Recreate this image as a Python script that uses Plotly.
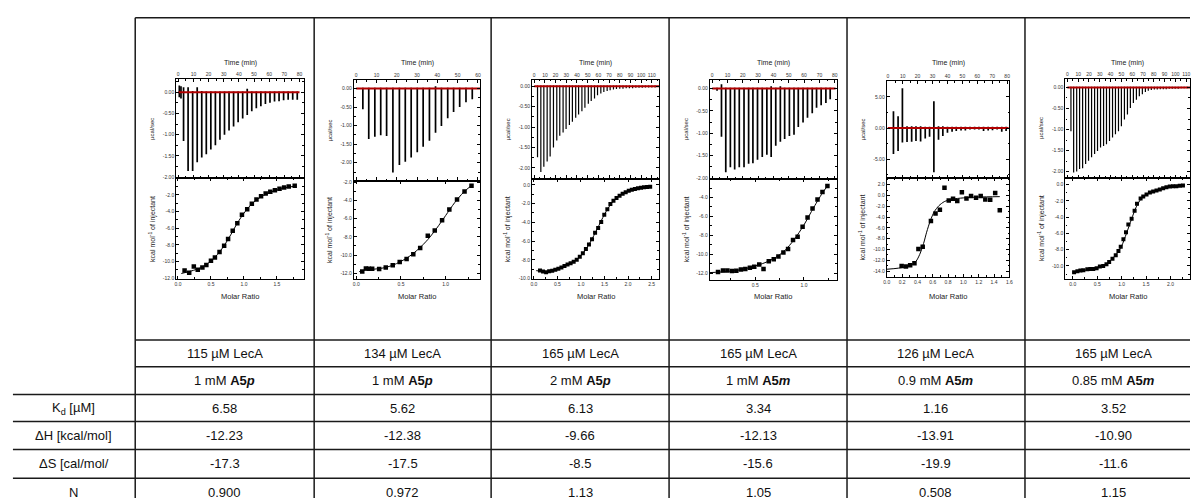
import plotly.graph_objects as go

FONT = "Liberation Sans, Arial, sans-serif"
W, H = 1194, 500

# ---------------- Panel data ----------------
# Panel 1 : 115 uM LecA / 1 mM A5p
p1_t = [0.7, 1.8, 3.5, 6.5, 9.5, 12.5, 15.5, 18.5, 21.5, 24.5, 27.5, 30.5, 33.5, 36.5, 39.5, 42.5,
        45.5, 48.5, 51.5, 54.5, 57.5, 60.5, 63.5, 66.5, 69.5, 72.5, 75.5, 78.5]
p1_lo = [-0.12, -0.15, -1.15, -1.86, -1.86, -1.65, -1.54, -1.46, -1.35, -1.25, -1.12, -1.00, -0.90, -0.81,
         -0.71, -0.62, -0.54, -0.45, -0.38, -0.33, -0.28, -0.25, -0.22, -0.21, -0.19, -0.18, -0.18, -0.18]
p1_hi = [0.16, 0.14, 0.12, 0.12, 0.03, 0.12, 0.03, 0.02, 0.02, 0.02, 0.02, 0.02, 0.02, 0.02,
         0.02, 0.02, 0.08, 0.02, 0.02, 0.02, 0.02, 0.02, 0.02, 0.02, 0.02, 0.02, 0.02, 0.02]
p1_mr = [0.10, 0.17, 0.24, 0.30, 0.37, 0.43, 0.50, 0.56, 0.63, 0.70, 0.76, 0.83, 0.90, 0.97, 1.05,
         1.12, 1.19, 1.26, 1.33, 1.40, 1.47, 1.54, 1.61, 1.68, 1.77]
p1_kcal = [-11.08, -11.36, -10.6, -11.0, -10.72, -10.44, -9.92, -9.52, -8.88, -8.12, -7.32, -6.32, -5.4,
           -4.4, -3.72, -3.08, -2.56, -2.16, -1.84, -1.64, -1.44, -1.28, -1.12, -1.0, -0.92]
p1_fit_mr = [0.05, 0.2, 0.35, 0.5, 0.6, 0.7, 0.8, 0.9, 1.0, 1.1, 1.2, 1.3, 1.45, 1.6, 1.77]
p1_fit_kcal = [-11.45, -11.15, -10.75, -9.95, -9.15, -8.1, -6.8, -5.4, -4.2, -3.25, -2.55, -2.05, -1.55, -1.2, -0.95]

# Panel 2 : 134 uM LecA / 1 mM A5p
p2_t = [3.3, 6.2, 9.2, 12.1, 15.0, 18.1, 21.3, 24.2, 27.1, 30.1, 33.0, 36.1, 39.1, 42.0, 45.1, 48.0, 51.0, 54.1, 57.2]
p2_lo = [-0.56, -1.36, -1.30, -1.26, -1.28, -2.26, -2.06, -1.97, -1.86, -1.72, -1.57, -1.41, -1.19, -1.01,
         -0.80, -0.63, -0.50, -0.37, -0.29]
p2_hi = [0.02, 0.02, 0.02, 0.02, 0.02, 0.02, 0.02, 0.02, 0.02, 0.02, 0.02, 0.02, 0.06, 0.02, 0.02, 0.02, 0.02, 0.02, 0.02]
p2_mr = [0.067, 0.108, 0.141, 0.178, 0.256, 0.33, 0.408, 0.486, 0.563, 0.638, 0.715, 0.80, 0.878, 0.96,
         1.041, 1.127, 1.211, 1.289]
p2_kcal = [-11.81, -11.49, -11.5, -11.5, -11.52, -11.38, -11.12, -10.76, -10.43, -9.92, -9.23, -7.89, -7.30,
           -6.18, -4.98, -3.89, -3.01, -2.39]
p2_fit_mr = [0.033, 0.1, 0.2, 0.3, 0.4, 0.5, 0.6, 0.7, 0.8, 0.9, 1.0, 1.1, 1.2, 1.289]
p2_fit_kcal = [-11.82, -11.65, -11.55, -11.42, -11.15, -10.7, -10.1, -9.3, -8.3, -7.05, -5.65, -4.25, -3.1, -2.35]

# Panel 3 : 165 uM LecA / 2 mM A5p
p3_t = [3.1, 6.2, 9.0, 12.1, 14.9, 18.0, 21.1, 23.9, 27.0, 29.8, 32.9, 35.7, 38.8, 41.5, 44.6, 47.4, 50.6,
        53.3, 56.4, 59.2, 62.3, 65.1, 68.2, 71.0, 74.1, 76.9, 80.0, 83.0, 86.0, 89.0, 92.0, 95.0, 98.0,
        101.0, 104.0, 107.0, 110.0, 113.0]
p3_lo = [-1.74, -2.10, -1.97, -1.84, -1.72, -1.50, -1.33, -1.21, -1.13, -1.05, -0.95, -0.87, -0.77, -0.69,
         -0.61, -0.53, -0.43, -0.36, -0.30, -0.22, -0.18, -0.14, -0.12, -0.10, -0.08, -0.07, -0.06, -0.06,
         -0.05, -0.05, -0.05, -0.04, -0.04, -0.04, -0.03, -0.03, -0.03, -0.03]
p3_hi = [0.02] * 38
p3_mr = [0.13, 0.195, 0.26, 0.325, 0.39, 0.455, 0.52, 0.585, 0.65, 0.715, 0.78, 0.845, 0.91, 0.975, 1.04,
         1.105, 1.17, 1.235, 1.30, 1.365, 1.43, 1.495, 1.56, 1.625, 1.69, 1.755, 1.82, 1.885, 1.95, 2.015,
         2.08, 2.145, 2.21, 2.275, 2.34, 2.405, 2.47]
p3_kcal = [-9.14, -9.25, -9.31, -9.22, -9.15, -9.05, -8.95, -8.82, -8.66, -8.5, -8.35, -8.2, -8.0, -7.66,
           -7.3, -6.85, -6.35, -5.8, -5.1, -4.6, -3.95, -3.2, -2.6, -2.05, -1.7, -1.4, -1.15, -0.95, -0.78,
           -0.62, -0.52, -0.44, -0.37, -0.31, -0.26, -0.22, -0.2]
p3_fit_mr = [0.05, 0.3, 0.6, 0.9, 1.05, 1.2, 1.35, 1.5, 1.65, 1.8, 2.0, 2.2, 2.47]
p3_fit_kcal = [-9.15, -9.25, -8.8, -8.0, -7.25, -6.1, -4.65, -3.15, -1.95, -1.2, -0.65, -0.38, -0.2]

# Panel 4 : 165 uM LecA / 1 mM A5m
p4_t = [3.2, 6.1, 8.9, 11.9, 14.7, 17.7, 20.8, 23.8, 26.6, 29.6, 32.7, 35.7, 38.5, 41.5, 44.5, 47.3, 50.4,
        53.4, 56.2, 59.3, 62.2, 65.3, 68.1, 71.1, 74.2, 77.0]
p4_lo = [-0.05, -1.08, -1.87, -1.76, -1.81, -1.76, -1.76, -1.68, -1.67, -1.59, -1.53, -1.48, -1.53, -1.28,
         -1.19, -1.13, -1.06, -1.03, -0.86, -0.76, -0.65, -0.55, -0.43, -0.37, -0.32, -0.24]
p4_hi = [0.02, 0.10, 0.02, 0.02, 0.02, 0.02, 0.02, 0.02, 0.02, 0.02, 0.02, 0.02, 0.05, 0.02, 0.05, 0.02,
         0.02, 0.02, 0.02, 0.02, 0.02, 0.02, 0.02, 0.02, 0.02, 0.02]
p4_mr = [0.118, 0.169, 0.214, 0.261, 0.306, 0.353, 0.398, 0.445, 0.49, 0.541, 0.585, 0.639, 0.69, 0.738,
         0.789, 0.837, 0.888, 0.935, 0.986, 1.037, 1.088, 1.139, 1.19, 1.241]
p4_kcal = [-11.89, -11.72, -11.72, -11.79, -11.76, -11.62, -11.58, -11.44, -11.34, -11.09, -11.58, -10.74,
           -10.53, -10.25, -9.83, -9.44, -8.49, -8.15, -7.09, -6.11, -5.16, -4.21, -3.41, -2.78]
p4_fit_mr = [0.034, 0.2, 0.35, 0.5, 0.6, 0.7, 0.8, 0.9, 1.0, 1.1, 1.2, 1.245]
p4_fit_kcal = [-11.95, -11.85, -11.65, -11.25, -10.9, -10.4, -9.65, -8.45, -6.9, -5.05, -3.35, -2.75]

# Panel 5 : 126 uM LecA / 0.9 mM A5m
p5_t = [3.8, 6.9, 9.8, 12.9, 16.0, 18.9, 22.0, 25.1, 28.0, 30.9, 34.0, 36.9, 40.0, 43.1, 45.9, 49.1, 52.0,
        55.1, 58.2, 61.1, 64.2, 67.3, 70.2, 73.3, 76.4, 79.3]
p5_lo = [-4.2, -3.7, -2.35, -2.25, -2.2, -2.1, -2.15, -1.7, -1.4, -7.1, -1.9, -1.3, -0.75, -0.6, -0.5, -0.4,
         -0.4, -0.25, -0.25, -0.25, -0.5, -0.4, -0.35, -0.25, -0.6, -0.5]
p5_hi = [2.7, 1.9, 6.4, 0.3, 0.3, 0.3, 0.3, 0.2, 0.2, 4.3, 0.3, 0.3, 0.2, 0.2, 0.2, 0.2, 0.2, 0.2, 0.2, 0.2,
         0.2, 0.2, 0.2, 0.2, 0.2, 0.2]
p5_mr = [0.194, 0.25, 0.305, 0.361, 0.413, 0.469, 0.576, 0.636, 0.693, 0.753, 0.809, 0.865, 0.92, 0.98,
         1.04, 1.10, 1.165, 1.226, 1.286, 1.35, 1.415, 1.475]
p5_kcal = [-13.03, -13.15, -12.9, -12.54, -9.91, -9.48, -4.71, -3.36, -2.63, 1.41, -0.92, -0.61, -1.04, 0.61,
           -0.55, -0.12, -0.43, -0.12, -0.73, -0.79, 0.43, -2.75]
p5_fit_mr = [0.0, 0.15, 0.3, 0.38, 0.43, 0.48, 0.52, 0.57, 0.62, 0.68, 0.75, 0.85, 1.0, 1.2, 1.475]
p5_fit_kcal = [-13.65, -13.45, -13.0, -12.2, -10.9, -8.9, -6.8, -4.6, -3.0, -1.9, -1.15, -0.7, -0.45, -0.3, -0.22]

# Panel 6 : 165 uM LecA / 0.85 mM A5m
p6_t = [3.3, 5.8, 8.6, 11.3, 14.1, 16.9, 19.6, 22.4, 25.2, 27.9, 30.7, 33.5, 36.2, 39.0, 41.8, 44.5, 47.3,
        50.0, 52.8, 55.6, 58.3, 61.1, 63.9, 66.6, 69.4, 72.2, 74.9, 77.7, 80.5, 83.2, 86.0, 88.8, 91.5, 94.3,
        97.1, 99.8, 102.6, 105.4, 108.1, 110.9]
p6_lo = [-1.04, -2.02, -2.0, -1.94, -1.92, -1.82, -1.74, -1.66, -1.58, -1.51, -1.43, -1.39, -1.35, -1.27,
         -1.19, -1.11, -1.04, -0.92, -0.76, -0.64, -0.49, -0.37, -0.29, -0.21, -0.16, -0.11, -0.08, -0.06,
         -0.05, -0.05, -0.04, -0.04, -0.04, -0.03, -0.03, -0.03, -0.03, -0.02, -0.02, -0.02]
p6_hi = [0.02] * 40
p6_mr = [0.027, 0.095, 0.156, 0.217, 0.298, 0.36, 0.42, 0.488, 0.555, 0.623, 0.69, 0.745, 0.813, 0.88,
         0.935, 0.982, 1.037, 1.09, 1.138, 1.205, 1.266, 1.315, 1.389, 1.443, 1.51, 1.579, 1.646, 1.714,
         1.782, 1.85, 1.917, 1.986, 2.053, 2.12, 2.19, 2.256]
p6_kcal = [-10.77, -10.65, -10.57, -10.53, -10.41, -10.37, -10.37, -10.28, -10.08, -10.0, -9.80, -9.51,
           -9.11, -8.70, -8.17, -7.64, -6.71, -5.85, -4.92, -4.19, -3.21, -2.36, -1.71, -1.46, -1.22, -0.98,
           -0.85, -0.73, -0.61, -0.45, -0.33, -0.24, -0.2, -0.2, -0.16, -0.12]
p6_fit_mr = [0.0, 0.2, 0.4, 0.6, 0.75, 0.9, 1.0, 1.1, 1.2, 1.3, 1.4, 1.5, 1.65, 1.8, 2.0, 2.256]
p6_fit_kcal = [-10.8, -10.6, -10.35, -10.02, -9.45, -8.5, -7.55, -6.0, -4.3, -2.75, -1.75, -1.25, -0.85,
               -0.55, -0.3, -0.14]

# ---------------- Tick labels ----------------
time_ticks_80 = [0, 10, 20, 30, 40, 50, 60, 70, 80]
time_ticks_60 = [0, 10, 20, 30, 40, 50, 60]
time_ticks_110 = [0, 10, 20, 30, 40, 50, 60, 70, 80, 90, 100, 110]
raw_ticks_2 = [0.0, -0.5, -1.0, -1.5, -2.0]
raw_ticks_5 = [5.0, 0.0, -5.0]
mr_ticks_15 = [0.0, 0.5, 1.0, 1.5]
mr_ticks_10 = [0.0, 0.5, 1.0]
mr_ticks_25 = [0.0, 0.5, 1.0, 1.5, 2.0, 2.5]
mr_ticks_p4 = [0.5, 1.0]
mr_ticks_16 = [0.0, 0.2, 0.4, 0.6, 0.8, 1.0, 1.2, 1.4, 1.6]
mr_ticks_20 = [0.0, 0.5, 1.0, 1.5, 2.0]
kcal_ticks_p1 = [-2.0, -4.0, -6.0, -8.0, -10.0, -12.0]
kcal_ticks_p3 = [0.0, -2.0, -4.0, -6.0, -8.0, -10.0]
kcal_ticks_p4 = [-4.0, -6.0, -8.0, -10.0, -12.0]
kcal_ticks_p5 = [2.0, 0.0, -2.0, -4.0, -6.0, -8.0, -10.0, -12.0, -14.0]

# ---------------- Table text ----------------
protein = ["115 µM LecA", "134 µM LecA", "165 µM LecA", "165 µM LecA", "126 µM LecA", "165 µM LecA"]
ligand_conc = ["1 mM", "1 mM", "2 mM", "1 mM", "0.9 mM", "0.85 mM"]
ligand_suffix = ["p", "p", "p", "m", "m", "m"]
kd_vals = ["6.58", "5.62", "6.13", "3.34", "1.16", "3.52"]
dh_vals = ["-12.23", "-12.38", "-9.66", "-12.13", "-13.91", "-10.90"]
ds_vals = ["-17.3", "-17.5", "-8.5", "-15.6", "-19.9", "-11.6"]
n_vals = ["0.900", "0.972", "1.13", "1.05", "0.508", "1.15"]
row_labels = ["K<sub>d</sub> [µM]", "ΔH [kcal/mol]", "ΔS [cal/mol/", "N"]

# ---------------- Panel layout configuration ----------------
panels = [
    dict(t=p1_t, lo=p1_lo, hi=p1_hi, mr=p1_mr, kc=p1_kcal, fmr=p1_fit_mr, fkc=p1_fit_kcal,
         tt=time_ticks_80, rt=raw_ticks_2, mt=mr_ticks_15, kt=kcal_ticks_p1, base=(0, 80),
         px=(174.3, 302.7), py=(77.7, 177.3, 279.3), tr=(-1.3, 82.9), rr=(-2.02, 0.31),
         mrr=(-0.026, 1.91), kr=(-12.12, 0.04), lw=1.7, ms=4.5, mminor=0.25),
    dict(t=p2_t, lo=p2_lo, hi=p2_hi, mr=p2_mr, kc=p2_kcal, fmr=p2_fit_mr, fkc=p2_fit_kcal,
         tt=time_ticks_60, rt=raw_ticks_2, mt=mr_ticks_10, kt=kcal_ticks_p1, base=(0, 61),
         px=(353, 480), py=(79, 180, 279.3), tr=(-1.1, 61.1), rr=(-2.48, 0.22),
         mrr=(-0.026, 1.386), kr=(-12.64, -1.81), lw=1.7, ms=4.5, mminor=0.25),
    dict(t=p3_t, lo=p3_lo, hi=p3_hi, mr=p3_mr, kc=p3_kcal, fmr=p3_fit_mr, fkc=p3_fit_kcal,
         tt=time_ticks_110, rt=raw_ticks_2, mt=mr_ticks_25, kt=kcal_ticks_p3, base=(0, 117),
         px=(532.3, 660), py=(78.3, 178, 279.3), tr=(-1.9, 116.8), rr=(-2.26, 0.16),
         mrr=(-0.036, 2.66), kr=(-10.05, 0.67), lw=1.2, ms=4.0, mminor=0.25),
    dict(t=p4_t, lo=p4_lo, hi=p4_hi, mr=p4_mr, kc=p4_kcal, fmr=p4_fit_mr, fkc=p4_fit_kcal,
         tt=time_ticks_80, rt=raw_ticks_2, mt=mr_ticks_p4, kt=kcal_ticks_p4, base=(0, 80.5),
         px=(711, 839), py=(78.3, 178.3, 280), tr=(-1.5, 81.5), rr=(-2.02, 0.2),
         mrr=(0.034, 1.34), kr=(-12.71, -2.02), lw=1.7, ms=4.5, mminor=0.25),
    dict(t=p5_t, lo=p5_lo, hi=p5_hi, mr=p5_mr, kc=p5_kcal, fmr=p5_fit_mr, fkc=p5_fit_kcal,
         tt=time_ticks_80, rt=raw_ticks_5, mt=mr_ticks_16, kt=kcal_ticks_p5, base=(0, 81),
         px=(889, 1012.3), py=(80, 177.3, 277.3), tr=(-0.67, 81.5), rr=(-8.02, 7.5),
         mrr=(0.0, 1.6), kr=(-15.1, 3.25), lw=1.7, ms=4.5, mminor=0.1),
    dict(t=p6_t, lo=p6_lo, hi=p6_hi, mr=p6_mr, kc=p6_kcal, fmr=p6_fit_mr, fkc=p6_fit_kcal,
         tt=time_ticks_110, rt=raw_ticks_2, mt=mr_ticks_20, kt=kcal_ticks_p3, base=(0, 114),
         px=(1068.7, 1194), py=(77.7, 177.3, 279.3), tr=(-1.8, 113.5), rr=(-2.15, 0.2),
         mrr=(-0.15, 2.40), kr=(-11.62, 0.82), lw=1.2, ms=4.0, mminor=0.25),
]


def fx(px):
    return px / W


def fy(py):
    return 1 - py / H


def axis_base(**kw):
    d = dict(showline=True, linecolor="black", linewidth=1.2, mirror="ticks", ticks="inside",
             ticklen=3, tickwidth=0.8, tickcolor="black", showgrid=False, zeroline=False,
             tickfont=dict(family=FONT, size=5, color="#333"), tickangle=0, fixedrange=True,
             minor=dict(ticks="inside", ticklen=1.6, tickwidth=0.7, tickcolor="black", showgrid=False))
    d.update(kw)
    if "minor_dtick" in d:
        d["minor"]["dtick"] = d.pop("minor_dtick")
    return d


fig = go.Figure()
layout = dict(width=W, height=H, margin=dict(l=0, r=0, t=0, b=0), paper_bgcolor="white",
              plot_bgcolor="white", showlegend=False)
annotations = []
shapes = []

for i, p in enumerate(panels):
    a, b = 2 * i + 1, 2 * i + 2
    xa, ya = f"x{a}", f"y{a}"
    xb, yb = f"x{b}", f"y{b}"
    x0, x1 = p["px"]
    y0, y1, y2 = p["py"]
    dom_x = [fx(x0), min(1.0, fx(x1))]
    dom_top = [fy(y1), fy(y0)]
    dom_bot = [fy(y2), fy(y1)]
    rdec = 2

    layout[f"xaxis{a}"] = axis_base(domain=dom_x, anchor=ya, side="top", range=list(p["tr"]),
                                    tickvals=p["tt"], ticktext=[str(v) for v in p["tt"]],
                                    minor_dtick=5)
    layout[f"yaxis{a}"] = axis_base(domain=dom_top, anchor=xa, range=list(p["rr"]),
                                    tickvals=p["rt"], ticktext=[f"{v:.{rdec}f}" for v in p["rt"]],
                                    minor_dtick=(p["rt"][0] - p["rt"][1]) / 2)
    layout[f"xaxis{b}"] = axis_base(domain=dom_x, anchor=yb, range=list(p["mrr"]),
                                    tickvals=p["mt"], ticktext=[f"{v:.1f}" for v in p["mt"]],
                                    minor_dtick=p["mminor"] if p["mminor"] != 0.1 else 0.1)
    layout[f"yaxis{b}"] = axis_base(domain=dom_bot, anchor=xb, range=list(p["kr"]),
                                    tickvals=p["kt"], ticktext=[f"{v:.1f}" for v in p["kt"]],
                                    minor_dtick=1.0)

    # raw injection peaks
    xs, ys = [], []
    for t, lo, hi in zip(p["t"], p["lo"], p["hi"]):
        xs += [t, t, None]
        ys += [hi, lo, None]
    fig.add_trace(go.Scatter(x=xs, y=ys, mode="lines", line=dict(color="black", width=p["lw"]),
                             xaxis=xa, yaxis=ya, hoverinfo="skip"))
    # baseline (red)
    fig.add_trace(go.Scatter(x=list(p["base"]), y=[0, 0], mode="lines",
                             line=dict(color="#b00000", width=2), xaxis=xa, yaxis=ya, hoverinfo="skip"))
    # fit curve
    fig.add_trace(go.Scatter(x=p["fmr"], y=p["fkc"], mode="lines", line=dict(color="black", width=1, shape="spline", smoothing=0.8),
                             xaxis=xb, yaxis=yb, hoverinfo="skip"))
    # integrated heats
    fig.add_trace(go.Scatter(x=p["mr"], y=p["kc"], mode="markers",
                             marker=dict(symbol="square", size=p["ms"], color="black"),
                             xaxis=xb, yaxis=yb, hoverinfo="skip"))

    cx = (x0 + min(x1, 1194)) / 2 if x1 <= 1194 else (x0 + 1199) / 2
    annotations.append(dict(text="Time (min)", x=fx(cx), y=fy(61), xref="paper", yref="paper",
                            showarrow=False, xanchor="center", yanchor="middle",
                            font=dict(family=FONT, size=7, color="#222")))
    annotations.append(dict(text="Molar Ratio", x=fx(cx), y=fy(297), xref="paper", yref="paper",
                            showarrow=False, xanchor="center", yanchor="middle",
                            font=dict(family=FONT, size=7.5, color="#222")))
    annotations.append(dict(text="µcal/sec", x=fx(x0 - 24), y=fy((y0 + y1) / 2), xref="paper", yref="paper",
                            showarrow=False, xanchor="center", yanchor="middle", textangle=-90,
                            font=dict(family=FONT, size=6, color="#222")))
    annotations.append(dict(text="kcal mol<sup>-1</sup> of injectant", x=fx(x0 - 24), y=fy((y1 + y2) / 2),
                            xref="paper", yref="paper", showarrow=False, xanchor="center",
                            yanchor="middle", textangle=-90,
                            font=dict(family=FONT, size=7, color="#222")))

# ---------------- Table grid ----------------
col_edges = [133, 313, 491, 670, 849, 1028, 1207]
LC = "#1a1a1a"


def hline(y, xa_, xb_, w=1.5):
    shapes.append(dict(type="line", xref="paper", yref="paper", x0=fx(xa_), x1=fx(xb_), y0=fy(y), y1=fy(y),
                       line=dict(color=LC, width=w)))


def vline(x, ya_, yb_, w=1.5):
    shapes.append(dict(type="line", xref="paper", yref="paper", x0=fx(x), x1=fx(x), y0=fy(ya_), y1=fy(yb_),
                       line=dict(color=LC, width=w)))


hline(16, 133, 1194)
hline(340.7, 133, 1194)
hline(367.7, 133, 1194)
for yy in [395.7, 423, 451, 480]:
    hline(yy, 10, 1194)
for xx in col_edges[:-1]:
    vline(xx, 16, 500)

row_centers = [354.2, 381.7, 409.3, 437, 465.5, 494]
TF = dict(family=FONT, size=13, color="#111")
for j in range(6):
    cx = (col_edges[j] + col_edges[j + 1]) / 2
    cells = [protein[j], f"{ligand_conc[j]} <b>A5<i>{ligand_suffix[j]}</i></b>",
             kd_vals[j], dh_vals[j], ds_vals[j], n_vals[j]]
    for txt, ry in zip(cells, row_centers):
        annotations.append(dict(text=txt, x=fx(cx), y=fy(ry), xref="paper", yref="paper", showarrow=False,
                                xanchor="center", yanchor="middle", font=TF))
for txt, ry in zip(row_labels, row_centers[2:]):
    annotations.append(dict(text=txt, x=fx(71), y=fy(ry), xref="paper", yref="paper", showarrow=False,
                            xanchor="center", yanchor="middle", font=TF))

layout["annotations"] = annotations
layout["shapes"] = shapes
fig.update_layout(**layout)
fig.write_html("out.html")
